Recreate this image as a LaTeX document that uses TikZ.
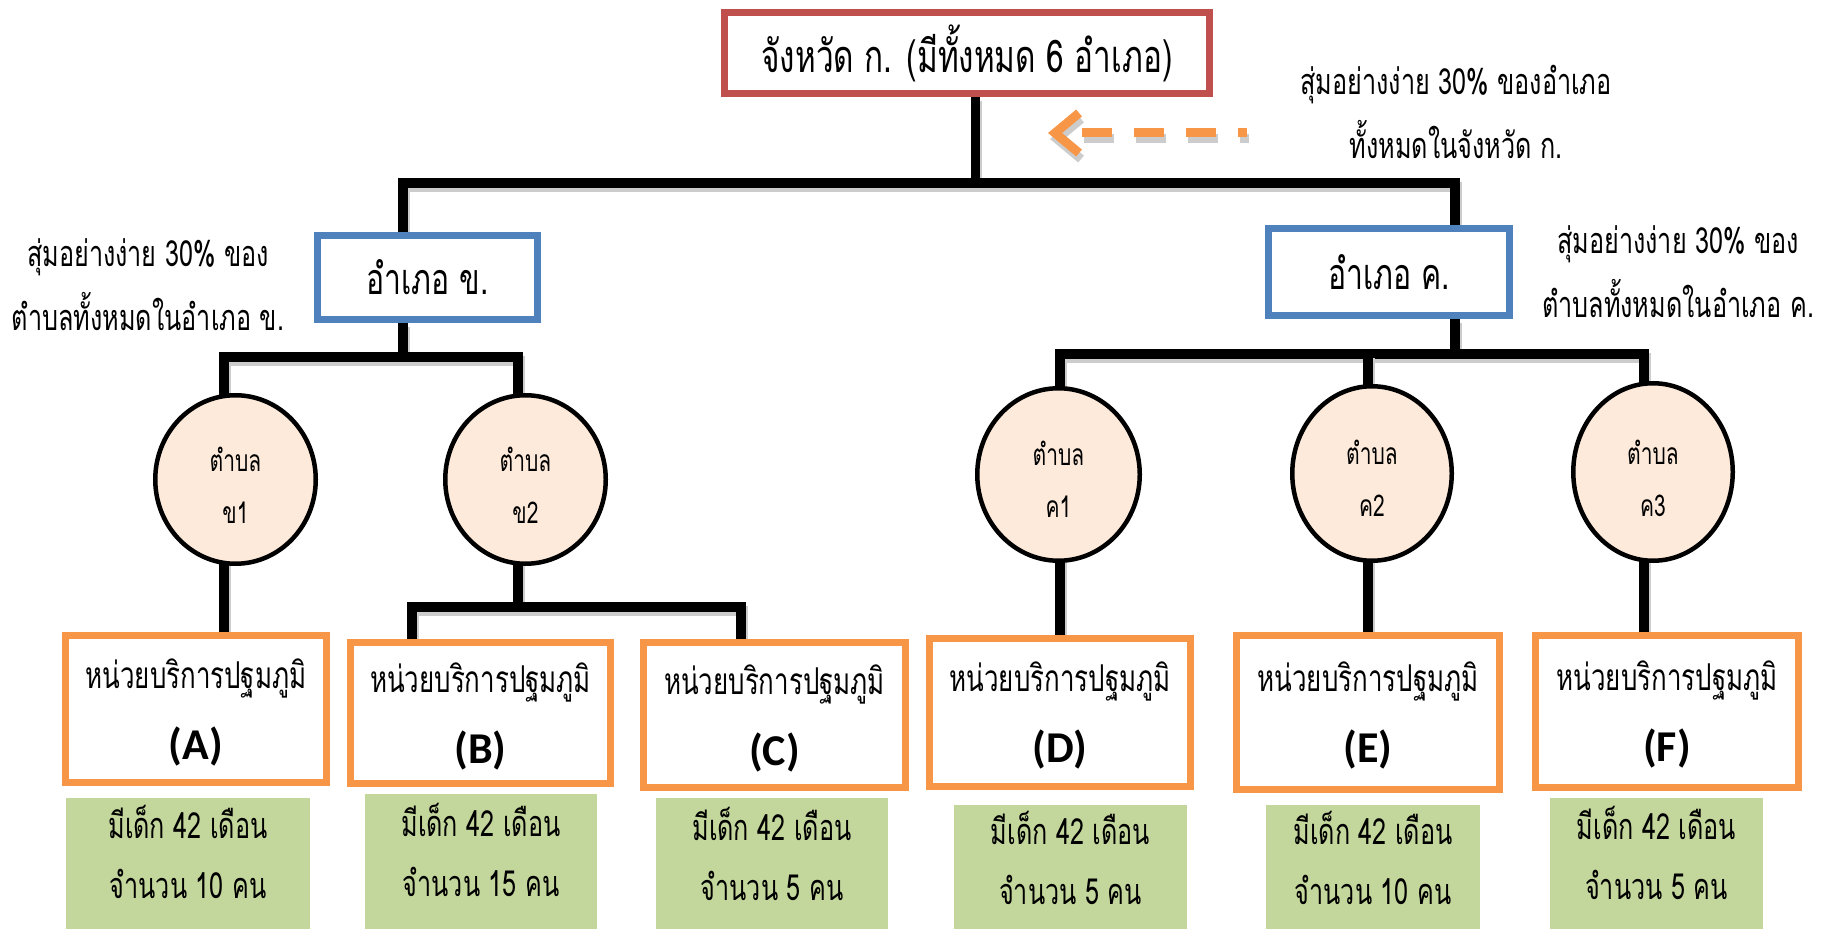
\documentclass[tikz,border=0pt]{standalone}
\usepackage{fontspec}
\newfontfamily\thai[Script=Thai,FakeStretch=0.7]{Loma}
\newfontfamily\latb{Carlito}
\usetikzlibrary{arrows.meta,shapes.geometric,backgrounds}
\definecolor{cred}{HTML}{C0504D}
\definecolor{cblue}{HTML}{4F81BD}
\definecolor{corange}{HTML}{F79646}
\definecolor{cpeach}{HTML}{FDEADA}
\definecolor{cgreen}{HTML}{C3D69B}
\newcommand{\letterbig}[1]{\raisebox{0pt}[\height][0pt]{\latb\bfseries\fontsize{22}{26}\selectfont #1}}
\newcommand{\twol}[3]{\rule{0pt}{#1}\smash{#2}\\\smash{#3}}
\tikzset{
  boxsz/.style 2 args={minimum width=#1*0.5pt, minimum height=#2*0.5pt},
  provbox/.style={draw=cred, line width=3.5pt, fill=white, inner sep=0pt, font=\thai\fontsize{22.5}{26}\selectfont},
  ampbox/.style={draw=cblue, line width=3.5pt, fill=white, inner sep=0pt, font=\thai\fontsize{21.5}{26}\selectfont},
  tambon/.style={ellipse, draw=black, line width=2.25pt, fill=cpeach, inner sep=0pt, align=center, font=\thai\fontsize{15}{26}\selectfont},
  unitbox/.style={draw=corange, line width=3.5pt, fill=white, inner sep=0pt, align=center, font=\thai\fontsize{18.5}{35.5}\selectfont},
  kidbox/.style={fill=cgreen, inner sep=0pt, align=center, font=\thai\fontsize{18}{30}\selectfont},
  notetext/.style={inner sep=0pt, align=center, font=\thai\fontsize{18}{32}\selectfont},
  conn/.style={line width=5pt, line cap=rect, preaction={draw=black!20, line width=5pt, transform canvas={xshift=1pt, yshift=-2pt}}},
  darrow/.style={line width=4.5pt, dash pattern=on 15pt off 11pt, dash phase=10.5pt, -{Straight Barb[length=12pt,width=20pt]}},
}
\begin{document}
\begin{tikzpicture}[x=0.5pt,y=-0.5pt]
\useasboundingbox (0,0) rectangle (1823,929);
% boxes
\node[provbox, boxsz={485}{81}] (prov) at (967,53) {จังหวัด ก. (มีทั้งหมด 6 อำเภอ)};
\node[ampbox, boxsz={220}{84}] (ampB) at (427.5,277.5) {อำเภอ ข.};
\node[ampbox, boxsz={241}{87}] (ampC) at (1389,272) {อำเภอ ค.};
\node[tambon, boxsz={160.5}{168.5}] (tB1) at (235.5,479.5) {\twol{18pt}{ตำบล}{ข1}};
\node[tambon, boxsz={160.5}{168.5}] (tB2) at (525.5,479.5) {\twol{18pt}{ตำบล}{ข2}};
\node[tambon, boxsz={162.5}{172.5}] (tC1) at (1058.5,474.5) {\twol{17.3pt}{ตำบล}{ค1}};
\node[tambon, boxsz={159.5}{174.5}] (tC2) at (1372,473.5) {\twol{17.3pt}{ตำบล}{ค2}};
\node[tambon, boxsz={159.5}{177.5}] (tC3) at (1653,472) {\twol{18.3pt}{ตำบล}{ค3}};
\node[unitbox, boxsz={261}{147}] (uA) at (196,709) {หน่วยบริการปฐมภูมิ\\\letterbig{(A)}};
\node[unitbox, boxsz={260}{141}] (uB) at (480.5,713) {หน่วยบริการปฐมภูมิ\\\letterbig{(B)}};
\node[unitbox, boxsz={262}{145}] (uC) at (774.5,715) {หน่วยบริการปฐมภูมิ\\\letterbig{(C)}};
\node[unitbox, boxsz={261}{148}] (uD) at (1060,712.5) {หน่วยบริการปฐมภูมิ\\\letterbig{(D)}};
\node[unitbox, boxsz={263}{154}] (uE) at (1368,712.5) {หน่วยบริการปฐมภูมิ\\\letterbig{(E)}};
\node[unitbox, boxsz={263}{152}] (uF) at (1667,711.5) {หน่วยบริการปฐมภูมิ\\\letterbig{(F)}};
\node[kidbox, boxsz={244}{131}] (kA) at (188,863.5) {\twol{5pt}{มีเด็ก 42 เดือน}{จำนวน 10 คน}};
\node[kidbox, boxsz={232}{135}] (kB) at (481,861.5) {\twol{5pt}{มีเด็ก 42 เดือน}{จำนวน 15 คน}};
\node[kidbox, boxsz={232}{131}] (kC) at (772,863.5) {\twol{7pt}{มีเด็ก 42 เดือน}{จำนวน 5 คน}};
\node[kidbox, boxsz={233}{124}] (kD) at (1070.5,867) {\twol{7.5pt}{มีเด็ก 42 เดือน}{จำนวน 5 คน}};
\node[kidbox, boxsz={214}{124}] (kE) at (1373,867) {\twol{7pt}{มีเด็ก 42 เดือน}{จำนวน 10 คน}};
\node[kidbox, boxsz={213}{131}] (kF) at (1656.5,863.5) {\twol{6pt}{มีเด็ก 42 เดือน}{จำนวน 5 คน}};
% notes
\node[notetext] (nT) at (1456,111.5) {สุ่มอย่างง่าย 30\% ของอำเภอ\\ทั้งหมดในจังหวัด ก.};
\node[notetext] (nL) at (148,285) {สุ่มอย่างง่าย 30\% ของ\\ตำบลทั้งหมดในอำเภอ ข.};
\node[notetext] (nR) at (1678,271.5) {สุ่มอย่างง่าย 30\% ของ\\ตำบลทั้งหมดในอำเภอ ค.};
% dashed arrow
\coordinate (aS) at (1247,133);
\coordinate (aE) at (1048,133);
\draw[darrow, black!20] ([shift={(2,6)}]aS) -- ([shift={(2,6)}]aE);
\draw[darrow, corange] (aS) -- (aE);
% junctions
\coordinate (j0) at (975,183);
\coordinate (jL) at (403,183);
\coordinate (jR) at (1455,183);
\coordinate (jLb) at (403,357);
\coordinate (jB1) at (224,357);
\coordinate (jB2) at (518,357);
\coordinate (jBB) at (518,607);
\coordinate (jBBl) at (412,607);
\coordinate (jBBr) at (741,607);
\coordinate (jRb) at (1455,354);
\coordinate (jC1) at (1060,354);
\coordinate (jC2) at (1368,354);
\coordinate (jC3) at (1644,354);
\begin{pgfonlayer}{background}
\draw[conn, line width=4.5pt] (prov.south -| j0) -- (j0);
\draw[conn] (ampB.north -| jL) -- (jL) -- (jR) -- (ampC.north -| jR);
\draw[conn] (ampB.south -| jLb) -- (jLb);
\draw[conn] (jB1 |- uA.north) -- (jB1) -- (jB2) -- (jBB);
\draw[conn] (uB.north -| jBBl) -- (jBBl) -- (jBBr) -- (uC.north -| jBBr);
\draw[conn] (ampC.south -| jRb) -- (jRb);
\draw[conn] (jC1 |- uD.north) -- (jC1) -- (jC3) -- (jC3 |- uF.north);
\draw[conn] (jC2) -- (jC2 |- uE.north);
\end{pgfonlayer}
\end{tikzpicture}
\end{document}
